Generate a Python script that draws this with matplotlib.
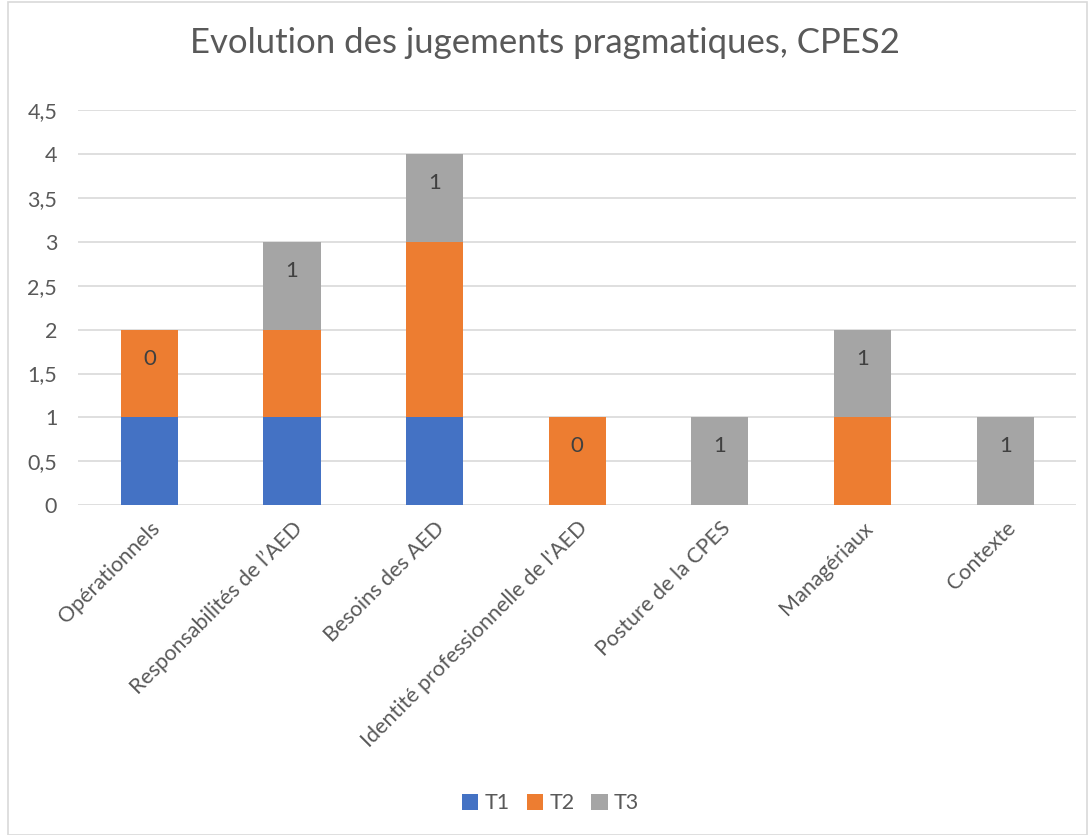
import numpy as np
import matplotlib.pyplot as plt
from matplotlib.patches import Rectangle

categories = ["Opérationnels", "Responsabilités de l\u2019AED", "Besoins des AED",
              "Identité professionnelle de l'AED", "Posture de la CPES",
              "Managériaux", "Contexte"]
t1 = np.array([1, 1, 1, 0, 0, 0, 0])
t2 = np.array([1, 1, 2, 1, 0, 1, 0])
t3 = np.array([0, 1, 1, 0, 1, 1, 1])

plt.rcParams['font.family'] = ['Lato', 'DejaVu Sans']
txt = '#595959'

fig = plt.figure(figsize=(10.9, 8.35), dpi=100)
fig.patches.append(Rectangle((0.007, 0.0), 0.99, 0.998, transform=fig.transFigure,
                             fill=False, edgecolor='#d9d9d9', lw=1.2))
ax = fig.add_axes([0.0716, 0.395, 0.916, 0.473])

x = np.arange(len(categories))
w = 0.4
ax.bar(x, t1, w, color='#4472c4', label='T1', zorder=3)
ax.bar(x, t2, w, bottom=t1, color='#ed7d31', label='T2', zorder=3)
ax.bar(x, t3, w, bottom=t1 + t2, color='#a5a5a5', label='T3', zorder=3)

# étiquettes de la série T3
total = t1 + t2 + t3
for i in range(len(categories)):
    ax.text(x[i], total[i] - 0.33, str(t3[i]), ha='center', va='center',
            fontsize=16, color='#404040', zorder=4)

ax.set_xlim(-0.5, len(categories) - 0.5)
ax.set_ylim(0, 4.5)
yt = np.arange(0, 4.51, 0.5)
ax.set_yticks(yt)
ax.set_yticklabels([('%g' % v).replace('.', ',') for v in yt], fontsize=15.5, color=txt)
ax.set_xticks(x)
ax.set_xticklabels(categories, rotation=45, ha='right', rotation_mode='anchor',
                   fontsize=15.5, color=txt)
ax.tick_params(length=0, pad=9)
ax.tick_params(axis='y', pad=15)
ax.grid(axis='y', color='#d9d9d9', lw=1.2, zorder=0)
for s in ax.spines.values():
    s.set_visible(False)

fig.text(0.5, 0.948, 'Evolution des jugements pragmatiques, CPES2', ha='center',
         va='center', fontsize=25, color=txt)
fig.legend(loc='center', bbox_to_anchor=(0.505, 0.038), ncol=3, frameon=False,
           fontsize=15.5, handlelength=0.75, handleheight=0.75, handletextpad=0.3,
           columnspacing=0.8, labelcolor=txt)

fig.savefig('out.png', dpi=100)
